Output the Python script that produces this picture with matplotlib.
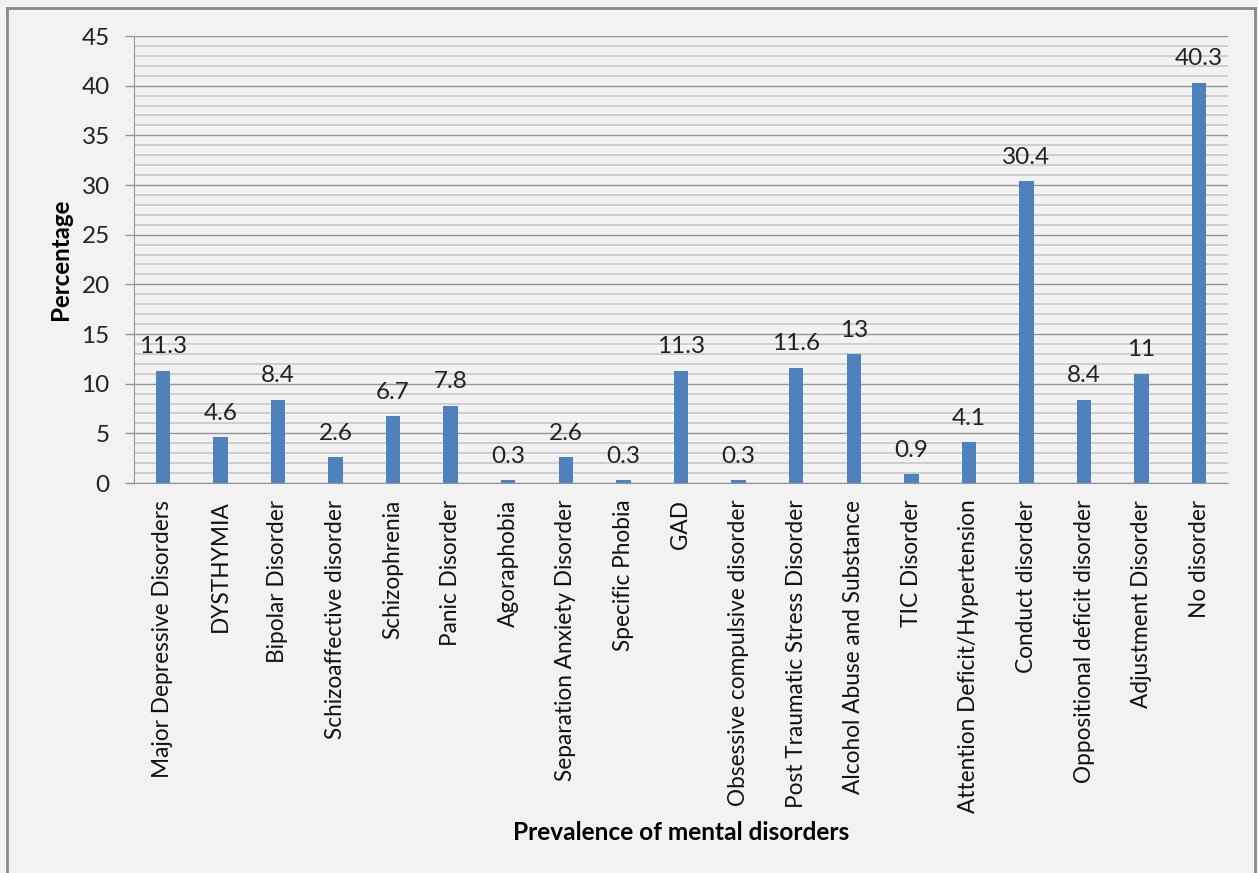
import matplotlib
matplotlib.use("Agg")
import matplotlib.pyplot as plt
from matplotlib.ticker import MultipleLocator
from matplotlib.lines import Line2D

categories = [
    "Major Depressive Disorders", "DYSTHYMIA", "Bipolar Disorder",
    "Schizoaffective disorder", "Schizophrenia", "Panic Disorder",
    "Agoraphobia", "Separation Anxiety Disorder", "Specific Phobia", "GAD",
    "Obsessive compulsive disorder", "Post Traumatic Stress Disorder",
    "Alcohol Abuse and Substance", "TIC Disorder",
    "Attention Deficit/Hypertension", "Conduct disorder",
    "Oppositional deficit disorder", "Adjustment Disorder", "No disorder",
]
values = [11.3, 4.6, 8.4, 2.6, 6.7, 7.8, 0.3, 2.6, 0.3, 11.3, 0.3, 11.6,
          13, 0.9, 4.1, 30.4, 8.4, 11, 40.3]
labels = ["11.3", "4.6", "8.4", "2.6", "6.7", "7.8", "0.3", "2.6", "0.3",
          "11.3", "0.3", "11.6", "13", "0.9", "4.1", "30.4", "8.4", "11", "40.3"]

plt.rcParams['font.family'] = ['Lato', 'DejaVu Sans']

W, H = 1258, 873
fig = plt.figure(figsize=(W / 100, H / 100), dpi=100, facecolor='#f2f2f2')
ax = fig.add_axes([134 / W, 1 - 483 / H, (1228 - 134) / W, (483 - 36) / H])
ax.set_facecolor('#f2f2f2')

x = list(range(len(categories)))
ax.bar(x, values, width=0.25, color='#4f81bd', zorder=3)
ax.set_xlim(-0.5, len(categories) - 0.5)
ax.set_ylim(0, 45)

ax.yaxis.set_major_locator(MultipleLocator(5))
ax.yaxis.set_minor_locator(MultipleLocator(1))
ax.grid(axis='y', which='minor', color='#c8c8c8', linewidth=1.2, zorder=0)
ax.grid(axis='y', which='major', color='#969696', linewidth=1.0, zorder=1)
ax.tick_params(axis='y', which='major', length=6.5, width=1, color='#969696',
               labelsize=17.5, pad=11, labelcolor='#222222')
ax.tick_params(axis='y', which='minor', length=0)
ax.tick_params(axis='x', length=0, pad=12, labelsize=16.3, labelcolor='#111111')

ax.set_xticks(x)
ax.set_xticklabels(categories, rotation=90, va='top', ha='center')

for s in ['top', 'right']:
    ax.spines[s].set_visible(False)
ax.spines['left'].set_color('#969696')
ax.spines['bottom'].set_color('#969696')

for xi, v, lab in zip(x, values, labels):
    ax.annotate(lab, (xi, v), xytext=(0, 12.5), textcoords='offset points',
                ha='center', va='baseline', fontsize=17.5, color='#222222')

fig.text(60 / W, 1 - 259 / H, 'Percentage', rotation=90, ha='center',
         va='center', fontsize=17.4, fontweight='bold')
fig.text(681 / W, 1 - 833 / H, 'Prevalence of mental disorders', ha='center',
         va='center', fontsize=17.6, fontweight='bold')

# outer border (top, left, right)
for xs, ys in [([7 / W, 1255 / W], [1 - 8 / H, 1 - 8 / H]),
               ([7 / W, 7 / W], [1 - 8 / H, 0]),
               ([1255 / W, 1255 / W], [1 - 8 / H, 0])]:
    fig.add_artist(Line2D(xs, ys, transform=fig.transFigure, color='#888888', linewidth=2))

fig.savefig('out.png', dpi=100, facecolor='#f2f2f2')
